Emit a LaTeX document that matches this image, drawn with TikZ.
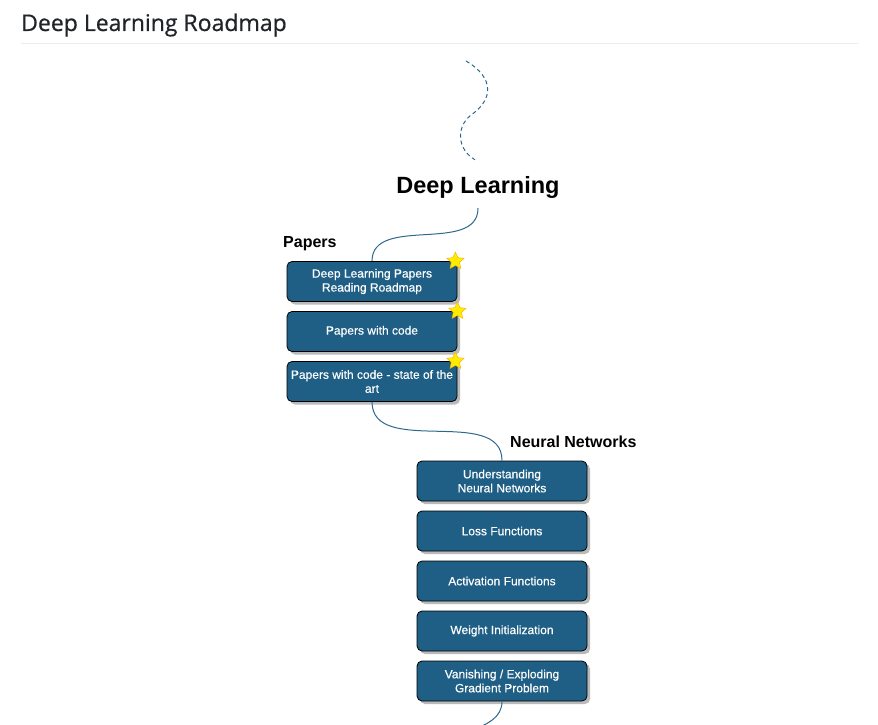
\documentclass[tikz,border=0pt]{standalone}
\usepackage{fontspec}
\setmainfont{Liberation Sans}
\newfontfamily\headfont{Open Sans}[FakeBold=0.6]
\newfontfamily\boxfont{Liberation Sans}[FakeBold=0.3]
\usepackage{tikz}
\usetikzlibrary{positioning,shapes.geometric,shadows}
\definecolor{boxblue}{RGB}{31,95,133}
\definecolor{linkblue}{RGB}{46,104,140}
\definecolor{headgray}{RGB}{33,37,41}

\begin{document}
\begin{tikzpicture}[
                x=1pt, y=-1pt,                % 像素坐标,向下为正
                node distance=9.2pt,          % 方框之间的间距
                topic/.style={
                    rectangle,
                    rounded corners=5pt,
                    draw=black,
                    line width=0.8pt,
                    fill=boxblue,
                    text=white,
                    minimum width=170pt,
                    minimum height=40pt,
                    inner sep=2pt,
                    align=center,
                    font=\boxfont\fontsize{12}{14}\selectfont,
                    drop shadow={shadow xshift=3pt, shadow yshift=-3pt, fill=black!45, opacity=0.6}
                },
                grouplabel/.style={font=\bfseries\fontsize{16}{18}\selectfont, anchor=base west, inner sep=0pt},
                starmark/.style={star, star points=5, star point ratio=2.1, minimum size=18pt,
                                 inner sep=0pt, fill=yellow!95!orange, draw=orange!60!yellow, line width=0.5pt},
                link/.style={draw=linkblue, line width=1pt}
            ]
                \clip (0,0) rectangle (878,725);

                % 页眉
                \node[font=\headfont\fontsize{23}{28}\selectfont, text=headgray,
                      anchor=base west, inner sep=0pt] (title) at (21,31) {Deep Learning Roadmap};
                \draw[gray!15, line width=1pt] (21,44) -- (858,44);

                % 主题
                \node[font=\bfseries\fontsize{23.5}{28}\selectfont, inner sep=10pt, anchor=base] (dl) at (478,193) {Deep Learning};
                \coordinate (entry) at (466,61);

                % Papers 一组
                \node[grouplabel] (papers) at (283,247) {Papers};
                \node[topic] (p1) at (372,281.5) {Deep Learning Papers\\Reading Roadmap};
                \node[topic, below=of p1] (p2) {Papers with code};
                \node[topic, below=of p2] (p3) {Papers with code - state of the\\art};

                % 星标
                \node[starmark] (s1) at ([xshift=-2pt]p1.north east) {};
                \node[starmark] (s2) at (p2.north east) {};
                \node[starmark] (s3) at ([xshift=-2pt]p3.north east) {};

                % Neural Networks 一组
                \node[grouplabel] (nn) at (510,447) {Neural Networks};
                \node[topic] (n1) at (502,481) {Understanding\\Neural Networks};
                \node[topic, below=of n1] (n2) {Loss Functions};
                \node[topic, below=of n2] (n3) {Activation Functions};
                \node[topic, below=of n3] (n4) {Weight Initialization};
                \node[topic, below=of n4] (n5) {Vanishing / Exploding\\Gradient Problem};
                \coordinate (exit) at (440,760);

                % 连线
                \draw[link, dashed, dash pattern=on 4pt off 3pt] (entry)
                    .. controls (495,78) and (493,100) .. (471,115)
                    .. controls (455,128) and (458,150) .. ([xshift=-3pt,yshift=6pt]dl.north);
                \draw[link] (dl.south) to[out=-90, in=90] (p1.north);
                \draw[link] (p3.south) to[out=-90, in=90] (n1.north);
                \draw[link] (n5.south) to[out=-90, in=90] (exit);
            \end{tikzpicture}
\end{document}
